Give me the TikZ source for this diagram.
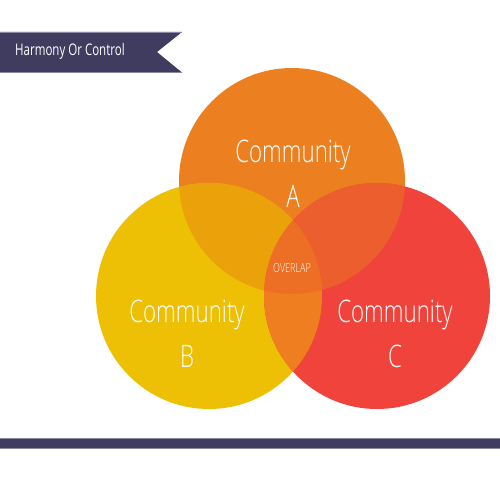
\documentclass[tikz,border=0pt]{standalone}
\usepackage{fontspec}
\IfFontExistsTF{Open Sans Light}
  {\newfontfamily\cf[FakeStretch=0.72]{Open Sans Light}}
  {\newfontfamily\cf[FakeStretch=0.70]{Open Sans}}
\newfontfamily\tf[FakeStretch=0.72]{Open Sans}
\definecolor{navy}{HTML}{403C5F}
\definecolor{navyedge}{HTML}{8A87A2}
\definecolor{cA}{HTML}{EC8020}
\definecolor{cB}{HTML}{EDBF05}
\definecolor{cC}{HTML}{F0433B}
\definecolor{cAB}{HTML}{EBA10A}
\definecolor{cAC}{HTML}{EC5E2D}
\definecolor{cBC}{HTML}{EE7E1F}
\definecolor{cABC}{HTML}{EC6F25}
\tikzset{
  big/.style={text=white, font=\cf\fontsize{31}{45}\selectfont, align=center, inner sep=0pt},
  small/.style={text=white, font=\cf\fontsize{12.5}{14}\selectfont, inner sep=0pt},
  title/.style={text=white, font=\tf\fontsize{16}{18}\selectfont, inner sep=0pt, anchor=west}
}
\begin{document}
\begin{tikzpicture}[x=1pt,y=-1pt]
\useasboundingbox (0,0) rectangle (500,500);
\fill[white] (0,0) rectangle (500,500);
% banner
\fill[navy] (0,32) -- (182,32) -- (157,52) -- (182,72.5) -- (0,72.5) -- cycle;
\draw[navyedge, line width=0.8] (0,32.4) -- (181.5,32.4);
\draw[navyedge, line width=0.8] (0,72.1) -- (181.5,72.1);
\node[title] (t) at (15,51) {Harmony Or Control};
% bottom bar
\fill[navy] (0,438) rectangle (500,449);
\draw[navyedge, line width=0.8] (0,438.4) -- (500,438.4);
\draw[navyedge, line width=0.8] (0,448.6) -- (500,448.6);
% circles
\def\ca{(292,181) circle [radius=113]}
\def\cb{(209,296) circle [radius=113]}
\def\cc{(377,296) circle [radius=113]}
\fill[cA] \ca;
\fill[cB] \cb;
\fill[cC] \cc;
\begin{scope}\clip \ca; \fill[cAB] \cb; \end{scope}
\begin{scope}\clip \ca; \fill[cAC] \cc; \end{scope}
\begin{scope}\clip \cb; \fill[cBC] \cc; \end{scope}
\begin{scope}\clip \ca; \clip \cb; \fill[cABC] \cc; \end{scope}
% labels
\node[big] (la) at (293,174) {Community\\A};
\node[big] (lb) at (187,334) {Community\\B};
\node[big] (lc) at (395,334) {Community\\C};
\node[small] (lo) at (292,268) {OVERLAP};
\end{tikzpicture}
\end{document}
